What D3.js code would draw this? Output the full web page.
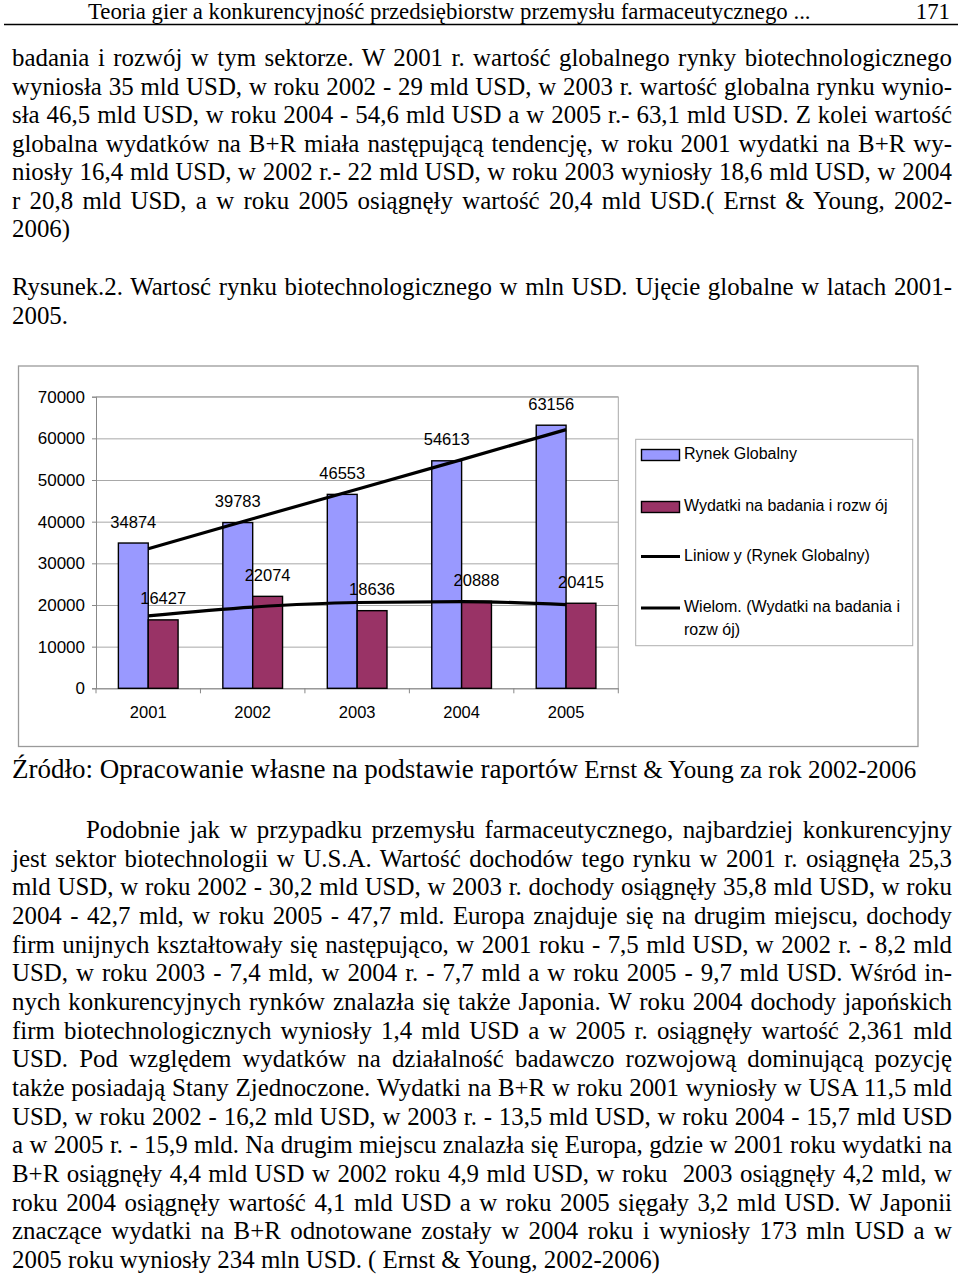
<!DOCTYPE html>
<html>
<head>
<meta charset="utf-8">
<script src="https://cdn.jsdelivr.net/npm/d3@7"></script>
<style>
  body { margin: 0; background: #fff; }
  svg { display: block; }
</style>
</head>
<body>
<div id="page"></div>
<script>
// chart data
var years = ['2001', '2002', '2003', '2004', '2005']
var rynekGlobalny = [34874, 39783, 46553, 54613, 63156]
var wydatkiBR = [16427, 22074, 18636, 20888, 20415]
// trend lines
var trendLiniowy = [33500, 40700, 47800, 54900, 62100]
var trendWielom = [17400, 19500, 20600, 20800, 20100]
var yTicks = [0, 10000, 20000, 30000, 40000, 50000, 60000, 70000]
var legendLabels = ['Rynek Globalny', 'Wydatki na badania i rozw ój', 'Liniow y (Rynek Globalny)', 'Wielom. (Wydatki na badania i', 'rozw ój)']

// page text
var headerText = 'Teoria gier a konkurencyjność przedsiębiorstw przemysłu farmaceutycznego ...'
var pageNumber = '171'
var para1 = [
  'badania i rozwój w tym sektorze. W 2001 r. wartość globalnego rynky biotechnologicznego',
  'wyniosła 35 mld USD, w roku 2002 - 29 mld USD, w 2003 r. wartość globalna rynku wynio-',
  'sła 46,5 mld USD, w roku 2004 - 54,6 mld USD a w 2005 r.- 63,1 mld USD. Z kolei wartość',
  'globalna wydatków na B+R miała następującą tendencję, w roku 2001 wydatki na B+R wy-',
  'niosły 16,4 mld USD, w 2002 r.- 22 mld USD, w roku 2003 wyniosły 18,6 mld USD, w 2004',
  'r 20,8 mld USD, a w roku 2005 osiągnęły wartość 20,4 mld USD.( Ernst & Young, 2002-',
  '2006)'
]
var caption = [
  'Rysunek.2. Wartosć rynku biotechnologicznego w mln USD. Ujęcie globalne w latach 2001-',
  '2005.'
]
var para2 = [
  'Podobnie jak w przypadku przemysłu farmaceutycznego, najbardziej konkurencyjny',
  'jest sektor biotechnologii w U.S.A. Wartość dochodów tego rynku w 2001 r. osiągnęła 25,3',
  'mld USD, w roku 2002 - 30,2 mld USD, w 2003 r. dochody osiągnęły 35,8 mld USD, w roku',
  '2004 - 42,7 mld, w roku 2005 - 47,7 mld. Europa znajduje się na drugim miejscu, dochody',
  'firm unijnych kształtowały się następująco, w 2001 roku - 7,5 mld USD, w 2002 r. - 8,2 mld',
  'USD, w roku 2003 - 7,4 mld, w 2004 r. - 7,7 mld a w roku 2005 - 9,7 mld USD. Wśród in-',
  'nych konkurencyjnych rynków znalazła się także Japonia. W roku 2004 dochody japońskich',
  'firm biotechnologicznych wyniosły 1,4 mld USD a w 2005 r. osiągnęły wartość 2,361 mld',
  'USD. Pod względem wydatków na działalność badawczo rozwojową dominującą pozycję',
  'także posiadają Stany Zjednoczone. Wydatki na B+R w roku 2001 wyniosły w USA 11,5 mld',
  'USD, w roku 2002 - 16,2 mld USD, w 2003 r. - 13,5 mld USD, w roku 2004 - 15,7 mld USD',
  'a w 2005 r. - 15,9 mld. Na drugim miejscu znalazła się Europa, gdzie w 2001 roku wydatki na',
  'B+R osiągnęły 4,4 mld USD w 2002 roku 4,9 mld USD, w roku  2003 osiągnęły 4,2 mld, w',
  'roku 2004 osiągnęły wartość 4,1 mld USD a w roku 2005 sięgały 3,2 mld USD. W Japonii',
  'znaczące wydatki na B+R odnotowane zostały w 2004 roku i wyniosły 173 mln USD a w',
  '2005 roku wyniosły 234 mln USD. ( Ernst & Young, 2002-2006)'
]

var width = 960, height = 1275
var serif = '"Liberation Serif", "Times New Roman", serif'
var sans = '"Liberation Sans", Arial, sans-serif'

var svg = d3.select('#page')
  .append('svg')
  .attr('width', width)
  .attr('height', height)

// ---- header ----
svg.append('text')
  .attr('x', 88).attr('y', 19)
  .style('font-family', serif).style('font-size', '22.8px')
  .text(headerText)

svg.append('text')
  .attr('x', 950).attr('y', 19)
  .attr('text-anchor', 'end')
  .style('font-family', serif).style('font-size', '22.8px')
  .text(pageNumber)

svg.append('line')
  .attr('x1', 4).attr('x2', 958)
  .attr('y1', 24.5).attr('y2', 24.5)
  .attr('stroke', '#000').attr('stroke-width', 1.5)

// justified text lines: widen word spacing so each line fills the column
function textBlock(lines, y0, step, opts) {
  var left = 12, right = 952
  lines.forEach(function(line, i) {
    var x = (i === 0 && opts.indent) ? left + opts.indent : left
    var t = svg.append('text')
      .attr('x', x).attr('y', y0 + i * step)
      .style('font-family', serif).style('font-size', opts.size + 'px')
      .style('white-space', 'pre')
      .text(line)
    var last = i === lines.length - 1
    if (!last || opts.justifyLast) {
      var spaces = (line.match(/ /g) || []).length
      var natural = t.node().getComputedTextLength()
      if (spaces > 0) t.style('word-spacing', ((right - x - natural) / spaces) + 'px')
    }
  })
}

textBlock(para1, 66, 28.5, { size: 24.9 })
textBlock(caption, 295, 28.5, { size: 24.9, justifyLast: false })

// source line, first part slightly bigger like the original
var src = svg.append('text')
  .attr('x', 12).attr('y', 778)
  .style('font-family', serif)
src.append('tspan').style('font-size', '27px').text('Źródło: Opracowanie własne na podstawie raportów')
src.append('tspan').style('font-size', '25px').text(' Ernst & Young za rok 2002-2006')

textBlock(para2, 838, 28.67, { size: 24.9, indent: 74 })

// ---- chart ----
var chartBox = { x: 18.5, y: 366, w: 899.5, h: 380.5 }
var plot = { left: 96, right: 618.3, top: 396.7, bottom: 688.3 }

svg.append('rect')
  .attr('x', chartBox.x).attr('y', chartBox.y)
  .attr('width', chartBox.w).attr('height', chartBox.h)
  .attr('fill', '#fff')
  .attr('stroke', '#9a9a9a').attr('stroke-width', 1.3)

var xScale = d3.scaleBand()
  .domain(years)
  .range([plot.left, plot.right])

var xInner = d3.scaleBand()
  .domain(['rynek', 'wydatki'])
  .range([0, xScale.bandwidth()])
  .paddingOuter(0.75)

var yScale = d3.scaleLinear()
  .domain([0, 70000])
  .range([plot.bottom, plot.top])

var chartG = svg.append('g').attr('class', 'chart')

// grid
chartG.append('g')
  .attr('class', 'grid')
  .attr('transform', `translate(${plot.left},0)`)
  .call(d3.axisLeft(yScale).tickValues(yTicks).tickSize(-(plot.right - plot.left)).tickFormat(''))
  .call(g => g.select('.domain').remove())
  .selectAll('line')
  .attr('stroke', '#a8a8a8')

// plot frame top / right
chartG.append('path')
  .attr('d', `M${plot.left},${plot.top}H${plot.right}V${plot.bottom}`)
  .attr('fill', 'none')
  .attr('stroke', '#a8a8a8')

// Y axis
chartG.append('g')
  .attr('class', 'y-axis')
  .attr('transform', `translate(${plot.left},0)`)
  .call(d3.axisLeft(yScale).tickValues(yTicks).tickSize(4).tickPadding(7).tickFormat(d => d))
  .call(g => g.select('.domain').attr('stroke', '#888'))
  .call(g => g.selectAll('.tick line').attr('stroke', '#888'))
  .selectAll('text')
  .style('font-family', sans)
  .style('font-size', '17px')
  .attr('fill', '#000')

// X axis: labels centred, ticks at category boundaries
chartG.append('g')
  .attr('class', 'x-axis')
  .attr('transform', `translate(0,${plot.bottom})`)
  .call(d3.axisBottom(xScale).tickSize(0).tickPadding(0))
  .call(g => g.select('.domain').attr('stroke', '#888'))
  .selectAll('text')
  .attr('dy', 0)
  .attr('y', 30)
  .style('font-family', sans)
  .style('font-size', '16.5px')
  .attr('fill', '#000')

chartG.append('g')
  .selectAll('line')
  .data(years.concat(['end']))
  .enter()
  .append('line')
  .attr('x1', d => d === 'end' ? plot.right : xScale(d))
  .attr('x2', d => d === 'end' ? plot.right : xScale(d))
  .attr('y1', plot.bottom)
  .attr('y2', plot.bottom + 5)
  .attr('stroke', '#888')

// bars
var barData = years.map((yr, i) => ({ year: yr, rynek: rynekGlobalny[i], wydatki: wydatkiBR[i] }))
var colors = { rynek: '#9999ff', wydatki: '#993366' }

var groups = chartG.append('g')
  .selectAll('g')
  .data(barData)
  .enter()
  .append('g')
  .attr('transform', d => `translate(${xScale(d.year)},0)`)

groups.selectAll('rect')
  .data(d => ['rynek', 'wydatki'].map(k => ({ key: k, value: d[k] })))
  .enter()
  .append('rect')
  .attr('x', d => xInner(d.key))
  .attr('y', d => yScale(d.value))
  .attr('width', xInner.bandwidth())
  .attr('height', d => plot.bottom - yScale(d.value))
  .attr('fill', d => colors[d.key])
  .attr('stroke', '#000')
  .attr('stroke-width', 1.4)

// trend lines
var centre = yr => xScale(yr) + xScale.bandwidth() / 2

var linearLine = d3.line()
  .x((d, i) => centre(years[i]))
  .y(d => yScale(d))

var polyLine = d3.line()
  .x((d, i) => centre(years[i]))
  .y(d => yScale(d))
  .curve(d3.curveMonotoneX)

chartG.append('path')
  .attr('d', linearLine(trendLiniowy))
  .attr('fill', 'none')
  .attr('stroke', '#000')
  .attr('stroke-width', 3.2)

chartG.append('path')
  .attr('d', polyLine(trendWielom))
  .attr('fill', 'none')
  .attr('stroke', '#000')
  .attr('stroke-width', 3.2)

// data labels
groups.selectAll('text.value')
  .data(d => ['rynek', 'wydatki'].map(k => ({ key: k, value: d[k] })))
  .enter()
  .append('text')
  .attr('class', 'value')
  .attr('x', d => xInner(d.key) + xInner.bandwidth() / 2)
  .attr('y', d => yScale(d.value) - 15.5)
  .attr('text-anchor', 'middle')
  .style('font-family', sans)
  .style('font-size', '16.5px')
  .text(d => d.value)

// legend
var legend = chartG.append('g').attr('class', 'legend')
legend.append('rect')
  .attr('x', 635.7).attr('y', 439.3)
  .attr('width', 277).attr('height', 206.4)
  .attr('fill', '#fff')
  .attr('stroke', '#b0b0b0')

var legendRows = [
  { type: 'rect', color: colors.rynek, y: 455, label: legendLabels[0] },
  { type: 'rect', color: colors.wydatki, y: 507, label: legendLabels[1] },
  { type: 'line', y: 556.5, label: legendLabels[2] },
  { type: 'line', y: 608, label: legendLabels[3], extra: legendLabels[4] }
]

legendRows.forEach(function(r) {
  if (r.type === 'rect') {
    legend.append('rect')
      .attr('x', 641.5).attr('y', r.y - 5.5)
      .attr('width', 38).attr('height', 11)
      .attr('fill', r.color)
      .attr('stroke', '#000').attr('stroke-width', 1.4)
  } else {
    legend.append('line')
      .attr('x1', 641).attr('x2', 680)
      .attr('y1', r.y).attr('y2', r.y)
      .attr('stroke', '#000').attr('stroke-width', 3.2)
  }
  legend.append('text')
    .attr('x', 684).attr('y', r.y + 4)
    .style('font-family', sans)
    .style('font-size', '16px')
    .style('white-space', 'pre')
    .text(r.label)
  if (r.extra) {
    legend.append('text')
      .attr('x', 684).attr('y', r.y + 27)
      .style('font-family', sans)
      .style('font-size', '16px')
      .style('white-space', 'pre')
      .text(r.extra)
  }
})
</script>
</body>
</html>
